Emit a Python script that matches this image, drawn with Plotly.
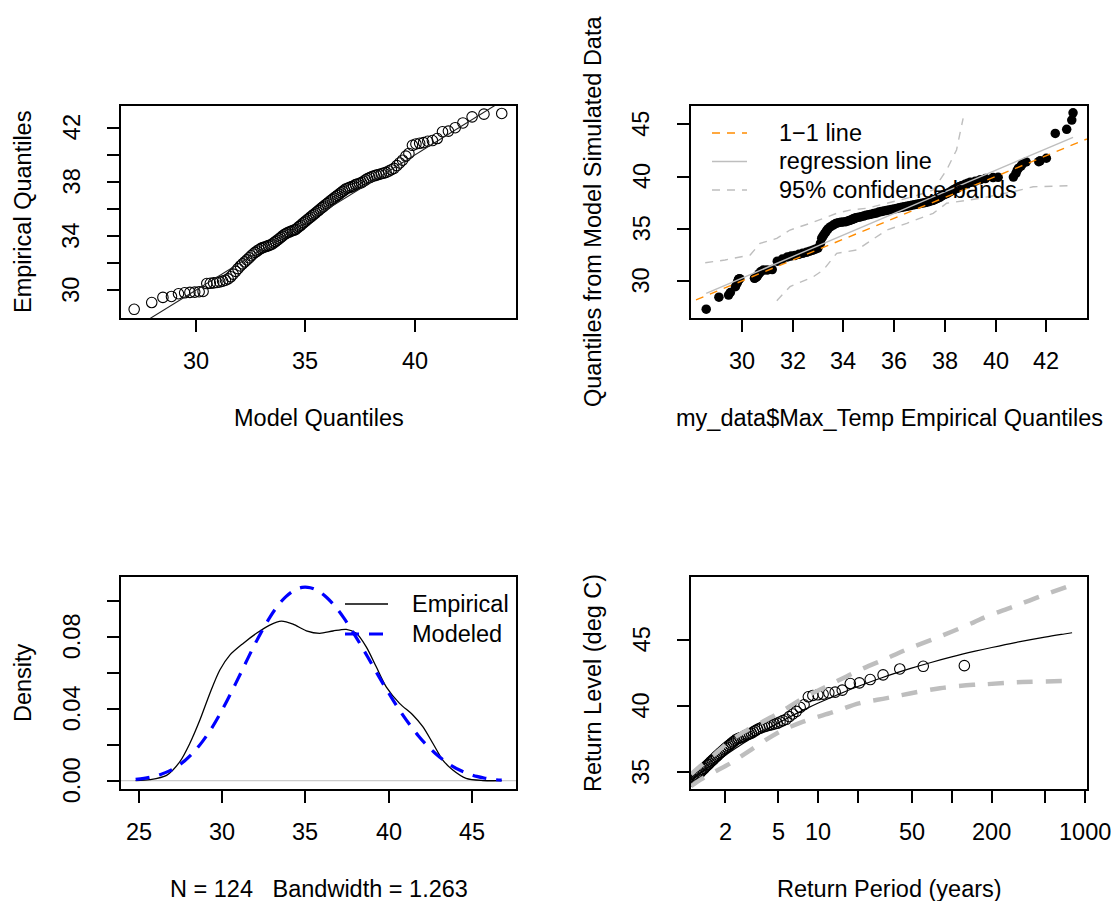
import math
import plotly.graph_objects as go

W, H = 1111, 901
FONT = "Liberation Sans, Arial, sans-serif"
FS = 23.5

# ---------------- data ----------------
# sorted empirical Max_Temp values (deg C), N = 124
emp = [28.6, 29.1, 29.48, 29.55, 29.75, 29.82, 29.85, 29.87, 29.9, 29.92,
       30.5, 30.52, 30.55, 30.58, 30.62, 30.68, 30.75, 30.85, 31.0, 31.2,
       31.4, 31.6, 31.8, 31.95, 32.1, 32.25, 32.4, 32.55, 32.68, 32.8,
       32.9, 33.0, 33.1, 33.15, 33.2, 33.25, 33.3, 33.35, 33.4, 33.5,
       33.6, 33.7, 33.8, 33.9, 34.0, 34.1, 34.18, 34.25, 34.3, 34.36,
       34.4, 34.45, 34.5, 34.6, 34.7, 34.8, 34.9, 35.0, 35.1, 35.2,
       35.3, 35.4, 35.5, 35.6, 35.7, 35.8, 35.9, 36.0, 36.1, 36.2,
       36.3, 36.4, 36.5, 36.6, 36.7, 36.8, 36.9, 37.0, 37.1, 37.2,
       37.3, 37.4, 37.5, 37.55, 37.6, 37.65, 37.7, 37.8, 37.85, 37.9,
       37.95, 38.05, 38.15, 38.25, 38.32, 38.4, 38.45, 38.5, 38.55, 38.6,
       38.65, 38.7, 38.8, 38.9, 39.0, 39.2, 39.4, 39.6, 39.9, 40.1,
       40.7, 40.8, 40.85, 40.9, 41.0, 41.05, 41.2, 41.7, 41.75, 42.0,
       42.35, 42.8, 43.0, 43.05]

# fitted GEV model quantiles at the same plotting positions
model_q = [27.20, 28.00, 28.51, 28.90, 29.22, 29.50, 29.74, 29.96, 30.16, 30.34,
           30.51, 30.67, 30.82, 30.97, 31.10, 31.23, 31.36, 31.48, 31.60, 31.71,
           31.83, 31.93, 32.04, 32.14, 32.24, 32.34, 32.44, 32.53, 32.62, 32.71,
           32.80, 32.89, 32.98, 33.06, 33.15, 33.23, 33.32, 33.40, 33.48, 33.56,
           33.64, 33.72, 33.80, 33.88, 33.95, 34.03, 34.11, 34.18, 34.26, 34.34,
           34.41, 34.49, 34.56, 34.64, 34.71, 34.79, 34.86, 34.93, 35.01, 35.08,
           35.16, 35.23, 35.31, 35.38, 35.46, 35.53, 35.61, 35.68, 35.76, 35.83,
           35.91, 35.99, 36.06, 36.14, 36.22, 36.30, 36.38, 36.46, 36.54, 36.62,
           36.70, 36.78, 36.86, 36.95, 37.03, 37.12, 37.20, 37.29, 37.38, 37.47,
           37.56, 37.65, 37.75, 37.84, 37.94, 38.04, 38.14, 38.24, 38.35, 38.46,
           38.57, 38.68, 38.80, 38.92, 39.04, 39.17, 39.30, 39.43, 39.58, 39.72,
           39.88, 40.04, 40.21, 40.39, 40.58, 40.79, 41.01, 41.25, 41.52, 41.83,
           42.18, 42.60, 43.14, 43.95]

# quantiles of data simulated from the fitted model
sim_q = [27.3, 28.45, 28.65, 28.9, 29.45, 29.8, 30.0, 30.15, 30.2, 30.22,
         30.26, 30.3, 30.35, 30.4, 30.5, 30.7, 30.9, 31.05, 31.05, 31.1,
         31.9, 32.1, 32.3, 32.4, 32.45, 32.55, 32.65, 32.75, 32.85, 32.95,
         33.05, 33.15, 33.6, 34.1, 34.3, 34.5, 34.65, 34.85, 35.0, 35.2,
         35.35, 35.5, 35.58, 35.62, 35.65, 35.68, 35.75, 35.8, 35.85, 35.9,
         35.95, 36.0, 36.05, 36.1, 36.15, 36.22, 36.3, 36.35, 36.4, 36.45,
         36.5, 36.6, 36.65, 36.7, 36.75, 36.8, 36.85, 36.9, 36.95, 37.0,
         37.05, 37.1, 37.15, 37.2, 37.25, 37.3, 37.35, 37.4, 37.45, 37.5,
         37.55, 37.62, 37.7, 37.75, 37.8, 37.85, 37.9, 38.0, 38.1, 38.2,
         38.25, 38.35, 38.45, 38.6, 38.7, 38.8, 38.85, 38.9, 39.0, 39.05,
         39.1, 39.15, 39.25, 39.35, 39.45, 39.55, 39.7, 39.8, 39.9, 39.92,
         39.95, 40.3, 40.6, 40.8, 41.0, 41.2, 41.4, 41.42, 41.5, 41.75,
         44.13, 44.52, 45.4, 46.1]

# empirical return periods (years) of the sorted values
ret_period = [0.207, 0.242, 0.268, 0.291, 0.311, 0.329, 0.347, 0.364, 0.380, 0.396,
              0.412, 0.427, 0.442, 0.457, 0.472, 0.486, 0.501, 0.516, 0.531, 0.546,
              0.561, 0.576, 0.591, 0.606, 0.621, 0.637, 0.652, 0.668, 0.684, 0.701,
              0.717, 0.734, 0.751, 0.768, 0.786, 0.803, 0.822, 0.840, 0.859, 0.878,
              0.897, 0.917, 0.937, 0.958, 0.979, 1.000, 1.022, 1.045, 1.068, 1.091,
              1.116, 1.140, 1.165, 1.191, 1.218, 1.245, 1.274, 1.302, 1.332, 1.362,
              1.394, 1.426, 1.460, 1.494, 1.529, 1.566, 1.603, 1.643, 1.683, 1.725,
              1.768, 1.813, 1.859, 1.907, 1.958, 2.009, 2.063, 2.120, 2.178, 2.241,
              2.304, 2.372, 2.442, 2.515, 2.593, 2.673, 2.758, 2.848, 2.944, 3.044,
              3.149, 3.261, 3.382, 3.509, 3.645, 3.791, 3.945, 4.110, 4.290, 4.481,
              4.690, 4.915, 5.160, 5.430, 5.736, 6.060, 6.440, 6.850, 7.310, 7.820,
              8.420, 9.100, 9.910, 10.86, 11.99, 13.38, 15.12, 17.37, 20.33, 24.50,
              30.60, 40.83, 61.23, 124.5]

# panel 2: 1-1 line extent, regression line, 95% confidence bands
one_one = [20.0, 50.0]
reg_x = [28.6, 43.05]
reg_y = [28.82, 43.75]
qq_up_x = [28.56, 29.34, 30.33, 30.72, 31.38, 31.9, 32.69, 33.21, 33.74, 34.26,
           34.92, 35.71, 36.76, 37.54, 38.07, 38.46, 38.72]
qq_up_y = [31.75, 32.01, 32.49, 33.6, 34.08, 34.88, 35.52, 36.0, 36.48, 36.79,
           36.96, 37.44, 38.07, 38.71, 40.62, 42.54, 45.57]
qq_lo_x = [31.38, 31.9, 32.82, 33.21, 33.74, 34.53, 34.92, 35.71, 36.5, 37.54,
           38.07, 39.38, 40.69, 41.48, 42.86]
qq_lo_y = [28.12, 29.46, 30.41, 31.05, 32.65, 32.97, 33.6, 34.88, 35.52, 36.48,
           37.44, 37.91, 38.55, 39.02, 39.12]

# panel 3: density curves
dens_emp_x = [24.8, 25.66, 26.66, 27.46, 28.06, 28.66, 29.26, 29.86, 30.46, 31.26,
              32.06, 32.86, 33.56, 34.26, 35.06, 35.86, 36.66, 37.46, 38.06, 38.66,
              39.26, 39.86, 40.66, 41.46, 42.06, 42.66, 43.26, 43.86, 44.66, 45.66, 46.8]
dens_emp_y = [0.0, 0.0006, 0.003, 0.0106, 0.0208, 0.0337, 0.0485, 0.0615, 0.0698, 0.0763,
              0.0819, 0.0865, 0.0887, 0.0870, 0.0833, 0.0819, 0.0832, 0.0841, 0.0819, 0.0744,
              0.0633, 0.0522, 0.0430, 0.0365, 0.0300, 0.0208, 0.0115, 0.0059, 0.0013, 0.0001, 0.0]
dens_mod_x = [24.8, 25.3, 25.8, 26.3, 26.8, 27.3, 27.8, 28.3, 28.8, 29.3,
              29.8, 30.3, 30.8, 31.3, 31.8, 32.3, 32.8, 33.3, 33.8, 34.3,
              34.8, 35.3, 35.8, 36.3, 36.8, 37.3, 37.8, 38.3, 38.8, 39.3,
              39.8, 40.3, 40.8, 41.3, 41.8, 42.3, 42.8, 43.3, 43.8, 44.3,
              44.8, 45.3, 45.8, 46.3, 46.8]
dens_mod_y = [0.0007, 0.0013, 0.0022, 0.0035, 0.0053, 0.0080, 0.0115, 0.0160, 0.0216, 0.0282,
              0.0360, 0.0446, 0.0538, 0.0633, 0.0728, 0.0817, 0.0898, 0.0967, 0.1020, 0.1056,
              0.1074, 0.1072, 0.1053, 0.1017, 0.0967, 0.0906, 0.0835, 0.0759, 0.0679, 0.0598,
              0.0519, 0.0444, 0.0373, 0.0308, 0.0249, 0.0197, 0.0153, 0.0115, 0.0083, 0.0058,
              0.0039, 0.0024, 0.0014, 0.0007, 0.0003]

# panel 4: return level curve and 95% CI
rl_T = [1.11, 1.2, 1.3, 1.5, 1.7, 2, 2.5, 3, 4, 5, 6, 8, 10, 15, 20, 30, 50, 70,
        100, 150, 200, 300, 500, 700, 800]
rl_v = [34.39, 34.66, 34.93, 35.39, 35.79, 36.28, 36.93, 37.43, 38.18, 38.72, 39.14,
        39.77, 40.23, 40.99, 41.49, 42.14, 42.86, 43.29, 43.71, 44.14, 44.42, 44.79,
        45.20, 45.44, 45.53]
ci_T = [1.11, 1.3, 1.6, 2.2, 3.0, 4.9, 7.7, 12.2, 20.5, 32.6, 48.6, 81.7, 145, 183,
        290, 459, 807]
ci_lo = [33.95, 34.43, 34.95, 35.69, 36.58, 37.95, 38.83, 39.46, 40.22, 40.6, 40.95,
         41.35, 41.6, 41.65, 41.78, 41.85, 41.9]
ci_hi = [34.85, 35.45, 36.2, 37.4, 38.25, 39.4, 40.6, 41.6, 42.73, 43.6, 44.37,
         45.25, 46.3, 46.76, 47.5, 48.27, 49.15]

# ticks and tick labels
p1_xt = [30, 35, 40]
p1_xl = ["30", "35", "40"]
p1_yt = [30, 32, 34, 36, 38, 40, 42]
p1_yl = ["30", "", "34", "", "38", "", "42"]
p2_xt = [30, 32, 34, 36, 38, 40, 42]
p2_xl = ["30", "32", "34", "36", "38", "40", "42"]
p2_yt = [30, 35, 40, 45]
p2_yl = ["30", "35", "40", "45"]
p3_xt = [25, 30, 35, 40, 45]
p3_xl = ["25", "30", "35", "40", "45"]
p3_yt = [0.0, 0.02, 0.04, 0.06, 0.08, 0.10]
p3_yl = ["0.00", "", "0.04", "", "0.08", ""]
p4_xt = [2, 5, 10, 20, 50, 100, 200, 500, 1000]
p4_xl = ["2", "5", "10", "", "50", "", "200", "", "1000"]
p4_yt = [35, 40, 45]
p4_yl = ["35", "40", "45"]

# ---------------- layout helpers ----------------
def px(x):
    return x / W

def py(y):
    return 1 - y / H

L1, R1 = 121, 516
L2, R2 = 691, 1087
T1, B1 = 106, 318
T2, B2 = 577, 789
XLAB_OFF = 43     # box edge -> x tick label centre
YLAB_OFF = 49.5   # box edge -> y tick label centre
XTIT_OFF = 100
YTIT_OFF = 98

fig = go.Figure()

# panel 1
fig.add_trace(go.Scatter(x=model_q, y=emp, mode="markers", xaxis="x", yaxis="y",
                         marker=dict(symbol="circle-open", size=10.5, color="black",
                                     line=dict(width=1.1)), showlegend=False))
fig.add_trace(go.Scatter(x=one_one, y=one_one, mode="lines", xaxis="x", yaxis="y",
                         line=dict(color="#222222", width=1.1), showlegend=False))

# panel 2
fig.add_trace(go.Scatter(x=emp, y=sim_q, mode="markers", xaxis="x2", yaxis="y2",
                         marker=dict(symbol="circle", size=9.5, color="black"),
                         showlegend=False))
fig.add_trace(go.Scatter(x=one_one, y=one_one, mode="lines", xaxis="x2", yaxis="y2",
                         line=dict(color="#FF8C00", width=1.4, dash="8px,7px"),
                         showlegend=False))
fig.add_trace(go.Scatter(x=reg_x, y=reg_y, mode="lines", xaxis="x2", yaxis="y2",
                         line=dict(color="#BEBEBE", width=1.4), showlegend=False))
fig.add_trace(go.Scatter(x=qq_up_x, y=qq_up_y, mode="lines", xaxis="x2", yaxis="y2",
                         line=dict(color="#BEBEBE", width=1.4, dash="8px,7px"),
                         showlegend=False))
fig.add_trace(go.Scatter(x=qq_lo_x, y=qq_lo_y, mode="lines", xaxis="x2", yaxis="y2",
                         line=dict(color="#BEBEBE", width=1.4, dash="8px,7px"),
                         showlegend=False))

# panel 3
fig.add_trace(go.Scatter(x=[dens_mod_x[0] - 30, dens_mod_x[-1] + 30], y=[0, 0],
                         mode="lines", xaxis="x3", yaxis="y3",
                         line=dict(color="#BEBEBE", width=1), showlegend=False))
fig.add_trace(go.Scatter(x=dens_emp_x, y=dens_emp_y, mode="lines", xaxis="x3", yaxis="y3",
                         line=dict(color="black", width=1.3, shape="spline", smoothing=0.8),
                         showlegend=False))
fig.add_trace(go.Scatter(x=dens_mod_x, y=dens_mod_y, mode="lines", xaxis="x3", yaxis="y3",
                         line=dict(color="#0000FF", width=3.2, dash="14px,10px",
                                   shape="spline"),
                         showlegend=False))

# panel 4
fig.add_trace(go.Scatter(x=ret_period, y=emp, mode="markers", xaxis="x4", yaxis="y4",
                         marker=dict(symbol="circle-open", size=10.5, color="black",
                                     line=dict(width=1.1)), showlegend=False))
fig.add_trace(go.Scatter(x=rl_T, y=rl_v, mode="lines", xaxis="x4", yaxis="y4",
                         line=dict(color="black", width=1.2, shape="spline"),
                         showlegend=False))
fig.add_trace(go.Scatter(x=ci_T, y=ci_lo, mode="lines", xaxis="x4", yaxis="y4",
                         line=dict(color="#BEBEBE", width=4.5, dash="16px,13px",
                                   shape="spline"), showlegend=False))
fig.add_trace(go.Scatter(x=ci_T, y=ci_hi, mode="lines", xaxis="x4", yaxis="y4",
                         line=dict(color="#BEBEBE", width=4.5, dash="16px,13px",
                                   shape="spline"), showlegend=False))

def axis_common():
    return dict(showline=True, mirror=True, linecolor="black", linewidth=2,
                ticks="outside", ticklen=12, tickwidth=2, tickcolor="black",
                showgrid=False, zeroline=False, showticklabels=False)

def xax(dom, rng, tv, anchor, typ="linear"):
    d = axis_common()
    d.update(domain=[px(dom[0]), px(dom[1])], range=rng, type=typ, tickvals=tv,
             anchor=anchor)
    return d

def yax(dom, rng, tv, anchor):
    d = axis_common()
    d.update(domain=[py(dom[1]), py(dom[0])], range=rng, tickvals=tv, anchor=anchor)
    return d

fig.update_layout(
    width=W, height=H, autosize=False,
    margin=dict(l=0, r=0, t=0, b=0),
    paper_bgcolor="white", plot_bgcolor="white",
    font=dict(family=FONT, size=FS, color="black"),
    hovermode=False,
    xaxis=xax((L1, R1), [26.6, 44.6], p1_xt, "y"),
    yaxis=yax((T1, B1), [27.96, 43.6], p1_yt, "x"),
    xaxis2=xax((L2, R2), [28.0, 43.6], p2_xt, "y2"),
    yaxis2=yax((T1, B1), [26.46, 46.75], p2_yt, "x2"),
    xaxis3=xax((L1, R1), [23.92, 47.66], p3_xt, "y3"),
    yaxis3=yax((T2, B2), [-0.0046, 0.1132], p3_yt, "x3"),
    xaxis4=xax((L2, R2), [0.0453, 3.015], p4_xt, "y4", typ="log"),
    yaxis4=yax((T2, B2), [33.74, 49.74], p4_yt, "x4"),
)

def ann(text, x, y, angle=0, xanchor="center", xref="paper", yref="paper"):
    fig.add_annotation(text=text, x=x, y=y, xref=xref, yref=yref,
                       showarrow=False, textangle=angle, xanchor=xanchor,
                       yanchor="middle", font=dict(family=FONT, size=FS, color="black"))

# tick labels (R style: y labels parallel to the axis)
def xticklabels(vals, labels, xref, box_bottom, log=False):
    for v, t in zip(vals, labels):
        if t:
            ann(t, math.log10(v) if log else v, py(box_bottom + XLAB_OFF), xref=xref)

def yticklabels(vals, labels, yref, box_left):
    for v, t in zip(vals, labels):
        if t:
            ann(t, px(box_left - YLAB_OFF), v, angle=-90, yref=yref)

xticklabels(p1_xt, p1_xl, "x", B1)
yticklabels(p1_yt, p1_yl, "y", L1)
xticklabels(p2_xt, p2_xl, "x2", B1)
yticklabels(p2_yt, p2_yl, "y2", L2)
xticklabels(p3_xt, p3_xl, "x3", B2)
yticklabels(p3_yt, p3_yl, "y3", L1)
xticklabels(p4_xt, p4_xl, "x4", B2, log=True)
yticklabels(p4_yt, p4_yl, "y4", L2)

# axis titles
ann("Model Quantiles", px((L1 + R1) / 2), py(B1 + XTIT_OFF))
ann("Empirical Quantiles", px(L1 - YTIT_OFF), py((T1 + B1) / 2), -90)
ann("my_data$Max_Temp Empirical Quantiles", px((L2 + R2) / 2), py(B1 + XTIT_OFF))
ann("Quantiles from Model Simulated Data", px(L2 - YTIT_OFF), py((T1 + B1) / 2), -90)
ann("N = 124 \u00a0 Bandwidth = 1.263", px((L1 + R1) / 2), py(B2 + XTIT_OFF))
ann("Density", px(L1 - YTIT_OFF), py((T2 + B2) / 2), -90)
ann("Return Period (years)", px((L2 + R2) / 2), py(B2 + XTIT_OFF))
ann("Return Level (deg C)", px(L2 - YTIT_OFF), py((T2 + B2) / 2), -90)

# legends (drawn like R's legend(bty="n"))
def leg_line(x0, x1, y, color, width, dash="solid"):
    fig.add_shape(type="line", xref="paper", yref="paper", x0=px(x0), x1=px(x1),
                  y0=py(y), y1=py(y), line=dict(color=color, width=width, dash=dash))

leg_line(712, 747, 133, "#FF8C00", 1.4, "8px,7px")
leg_line(712, 747, 161.5, "#BEBEBE", 1.4)
leg_line(712, 747, 190, "#BEBEBE", 1.4, "8px,7px")
ann("1\u22121 line", px(777), py(133), xanchor="left")
ann("regression line", px(777), py(161.5), xanchor="left")
ann("95% confidence bands", px(777), py(190), xanchor="left")

leg_line(345, 388, 604, "black", 1.3)
leg_line(345, 388, 634, "#0000FF", 3.2, "14px,10px")
ann("Empirical", px(410), py(604), xanchor="left")
ann("Modeled", px(410), py(634), xanchor="left")

# the page body must not add its default 8px margin around the figure
fig.write_html("out.html",
               config={"displayModeBar": False, "staticPlot": True},
               post_script="document.body.style.margin='0';"
                           "document.body.style.overflow='hidden';")
